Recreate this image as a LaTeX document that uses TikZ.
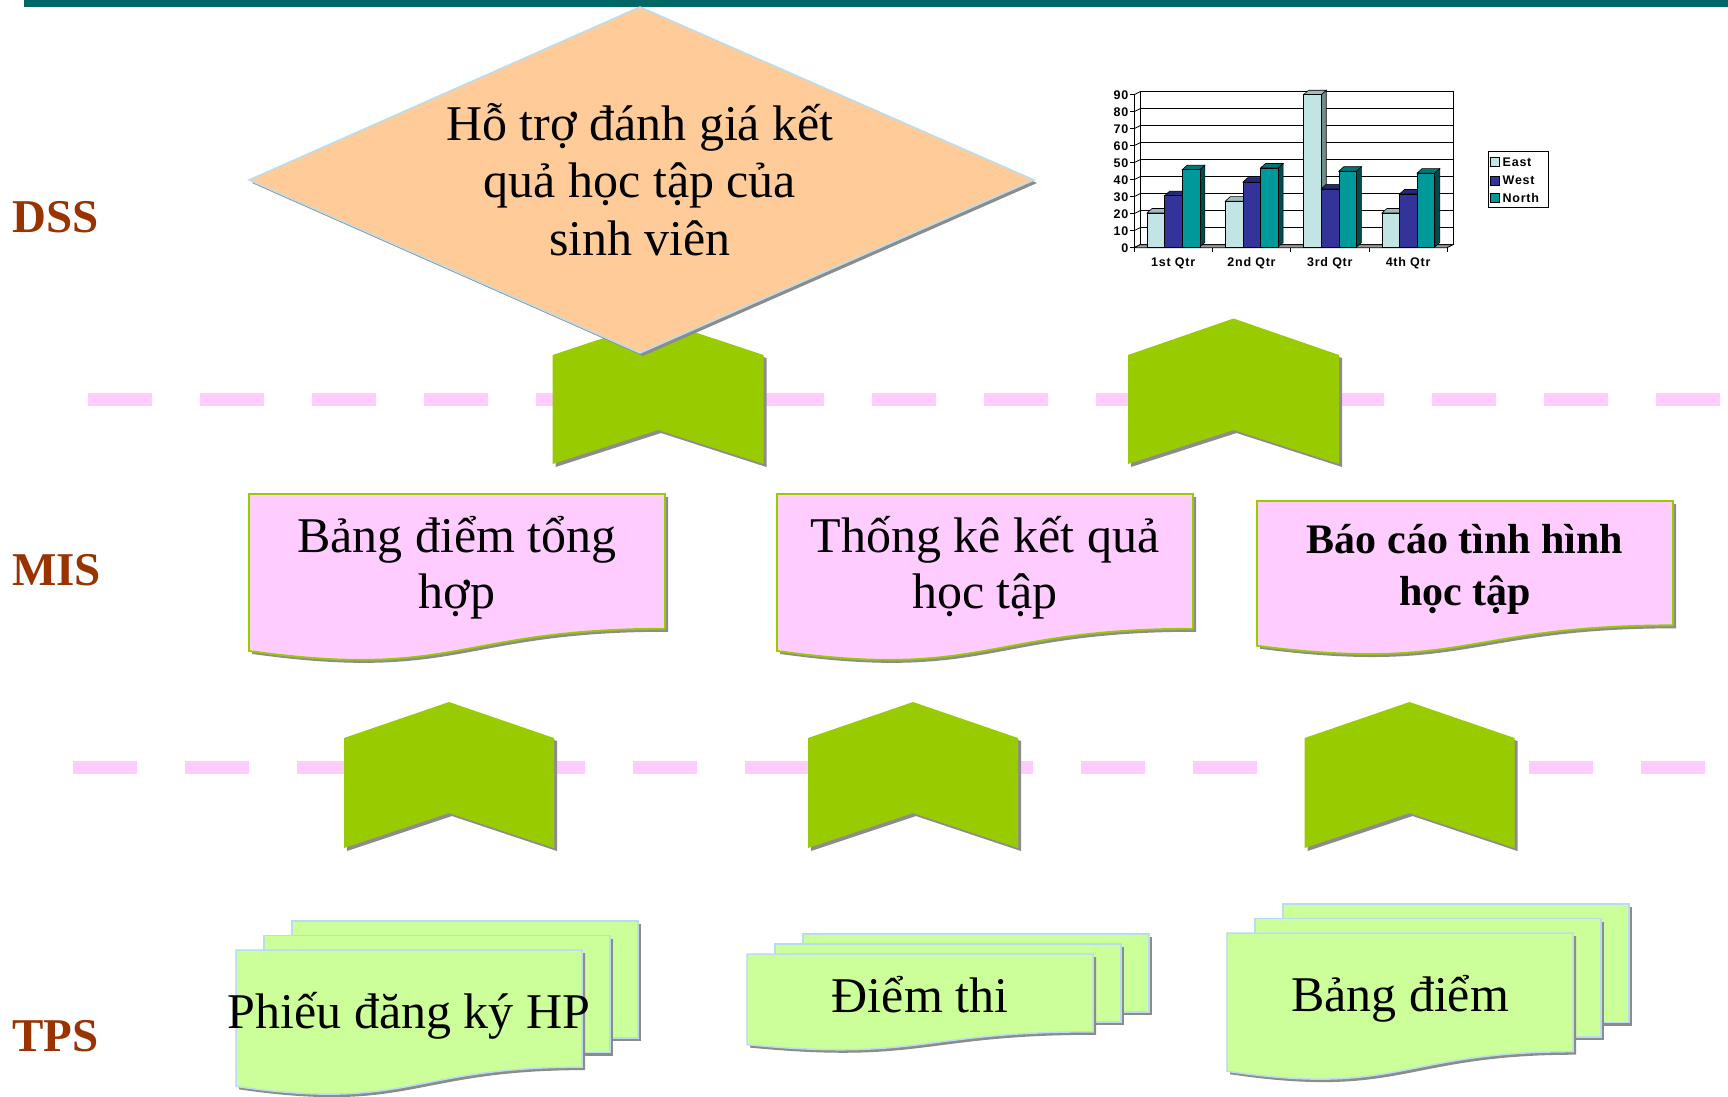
\documentclass[tikz,border=0pt]{standalone}
\usepackage{fontspec}
\setmainfont{Liberation Serif}
\newfontfamily\chartfont[LetterSpace=6]{Liberation Sans}

\definecolor{topbar}{HTML}{006666}
\definecolor{levelred}{HTML}{993300}
\definecolor{peach}{HTML}{FFCC99}
\definecolor{edgeblue}{HTML}{B8DDEE}
\definecolor{arrowgreen}{HTML}{99CC00}
\definecolor{pinkfill}{HTML}{FFCCFF}
\definecolor{dashpink}{HTML}{FFCCFF}
\definecolor{limefill}{HTML}{CCFF99}
\definecolor{shadowgray}{HTML}{8C8C8C}
\definecolor{eastF}{HTML}{C2E4E4}
\definecolor{eastT}{HTML}{9DBDBD}
\definecolor{eastS}{HTML}{6F8F8F}
\definecolor{westF}{HTML}{333399}
\definecolor{westT}{HTML}{28287A}
\definecolor{westS}{HTML}{1A1A5C}
\definecolor{northF}{HTML}{009999}
\definecolor{northT}{HTML}{007676}
\definecolor{northS}{HTML}{004C4C}
\definecolor{floorgray}{HTML}{999999}

% document flowchart outline: x, y (top-left), width, height
\newcommand{\docpath}[4]{(#1,#2) -- ({#1+#3},#2) -- ({#1+#3},{#2+0.802*#4})
  .. controls ({#1+0.5*#3},{#2+0.802*#4}) and ({#1+0.5*#3},{#2+1.107*#4}) .. (#1,{#2+0.934*#4}) -- cycle}

% single document with drop shadow
\newcommand{\pagedoc}[4]{%
  \fill[shadowgray, shift={(3,3)}] \docpath{#1}{#2}{#3}{#4};
  \filldraw[misdoc] \docpath{#1}{#2}{#3}{#4};
}

% stacked documents: x, y, w, h of the front page, then page offset dx, dy
\newcommand{\stackdoc}[6]{%
  \foreach \k in {2,1}{
    \fill[shadowgray] ({#1+\k*#5+3},{#2+\k*#6+3}) rectangle ({#1+\k*#5+#3+3},{#2+\k*#6+0.802*#4+3});
    \filldraw[tpsdoc] ({#1+\k*#5},{#2+\k*#6}) rectangle ({#1+\k*#5+#3},{#2+\k*#6+0.802*#4});
  }
  \fill[shadowgray, shift={(3,3)}] \docpath{#1}{#2}{#3}{#4};
  \filldraw[tpsdoc] \docpath{#1}{#2}{#3}{#4};
}

% upward chevron: centre x, half width, apex y, shoulder y, bottom y, notch y
\newcommand{\chevpath}[6]{({#1-#2},#4) -- (#1,#3) -- ({#1+#2},#4) -- ({#1+#2},#5) -- (#1,#6) -- ({#1-#2},#5) -- cycle}
\newcommand{\chevron}[6]{%
  \fill[shadowgray, shift={(3,3)}] \chevpath{#1}{#2}{#3}{#4}{#5}{#6};
  \fill[arrowgreen] \chevpath{#1}{#2}{#3}{#4}{#5}{#6};
}

% 3-D column: left x, value, front, top, side colours
\newcommand{\colbar}[5]{%
  \filldraw[fill=#5, draw=black, line width=0.6] ({#1+17.6},247) -- ({#1+22.6},242.5) -- ({#1+22.6},{247.7-#2*1.7-4.5}) -- ({#1+17.6},{247.7-#2*1.7}) -- cycle;
  \filldraw[fill=#4, draw=black, line width=0.6] (#1,{247.7-#2*1.7}) -- ({#1+17.6},{247.7-#2*1.7}) -- ({#1+22.6},{247.7-#2*1.7-4.5}) -- ({#1+5},{247.7-#2*1.7-4.5}) -- cycle;
  \filldraw[fill=#3, draw=black, line width=0.6] (#1,247) rectangle ({#1+17.6},{247.7-#2*1.7});
}

\newcommand{\textrows}[1]{\begin{tabular}[t]{@{}c@{}}#1\end{tabular}}

\begin{document}
\begin{tikzpicture}[x=1pt, y=-1pt,
  misdoc/.style={fill=pinkfill, draw=arrowgreen, line width=1.8},
  tpsdoc/.style={fill=limefill, draw=edgeblue, line width=1.5},
  levellabel/.style={font=\fontsize{47}{50}\selectfont\bfseries, text=levelred, inner sep=0, anchor=base west},
  bodytext/.style={font=\fontsize{50}{56.5}\selectfont, inner sep=0, anchor=base},
  boldtext/.style={font=\fontsize{42}{52}\selectfont\bfseries, inner sep=0, anchor=base},
  charttext/.style={font=\chartfont\fontsize{12.5}{14}\selectfont\bfseries, inner sep=0},
  dashline/.style={draw=dashpink, line width=13, dash pattern=on 64 off 48}
]
\useasboundingbox (0,0) rectangle (1728,1096);
\fill[white] (0,0) rectangle (1728,1096);

% title rule
\fill[topbar] (24,0) rectangle (1728,7);

% level labels
\node[levellabel] (dss) at (12,232.7) {DSS};
\node[levellabel] (mis) at (12,585) {MIS};
\node[levellabel] (tps) at (12,1051) {TPS};

% level separators
\draw[dashline] (88,399) -- (1728,399);
\draw[dashline] (73,767) -- (1728,767);

% arrows between levels
\chevron{658}{105.5}{320}{355}{464}{430}
\chevron{1233.5}{105.5}{318.5}{355}{464}{430}
\chevron{449}{105}{702}{738}{848}{813}
\chevron{913}{105}{702}{738}{848}{813}
\chevron{1409.5}{105}{702}{738}{848}{813}

% decision diamond
\fill[shadowgray, shift={(3,3)}] (640,7) -- (1034,180) -- (640,353) -- (249,180) -- cycle;
\filldraw[fill=peach, draw=edgeblue, line width=1.5] (640,7) -- (1034,180) -- (640,353) -- (249,180) -- cycle;
\node[bodytext, font=\fontsize{50}{57.5}\selectfont] (dsstext) at (640,140)
  {\textrows{Hỗ trợ đánh giá kết\\quả học tập của\\sinh viên}};

% column chart
\filldraw[fill=white, draw=black, line width=0.8] (1140,91.7) rectangle (1453,244.7);
\foreach \v in {10,20,...,80}
  \draw[line width=0.8] (1140,{244.7-\v*1.7}) -- (1453,{244.7-\v*1.7});
\foreach \v in {0,10,...,90}{
  \draw[line width=0.8] (1134,{247.7-\v*1.7}) -- (1140,{244.7-\v*1.7});
  \draw[line width=0.8] (1130,{247.7-\v*1.7}) -- (1134,{247.7-\v*1.7});
  \node[charttext, anchor=east] (ylab\v) at (1128.5,{247.7-\v*1.7}) {\v};
}
\draw[line width=0.8] (1134,94.7) -- (1134,247.7);
\filldraw[fill=floorgray, draw=black, line width=0.8] (1134,247.7) -- (1447,247.7) -- (1453,244.7) -- (1140,244.7) -- cycle;
\foreach \i in {0,...,4}
  \draw[line width=0.8] ({1134+78.3*\i},247.7) -- ++(0,4);
\foreach \g/\e/\w/\n/\q in {0/20.4/30.6/45.9/1st Qtr, 1/27.4/38.6/46.9/2nd Qtr, 2/90/34.6/45/3rd Qtr, 3/20.4/31.6/43.9/4th Qtr}{
  \colbar{1134+78.3*\g+13}{\e}{eastF}{eastT}{eastS}
  \colbar{1134+78.3*\g+30.6}{\w}{westF}{westT}{westS}
  \colbar{1134+78.3*\g+48.2}{\n}{northF}{northT}{northS}
  \node[charttext, anchor=base] (cat\g) at ({1134+78.3*\g+39.2},266.5) {\q};
}
% legend
\draw[line width=0.8] (1488,151) rectangle (1548,207);
\foreach \y/\c/\t in {162/eastF/East, 180.5/westF/West, 198/northF/North}{
  \filldraw[fill=\c, draw=black, line width=0.6] (1490,{\y-4.5}) rectangle (1499,{\y+4.5});
  \node[charttext, anchor=west] (leg\t) at (1502.5,\y) {\t};
}

% MIS reports
\pagedoc{249}{494}{416}{168}
\pagedoc{777}{494}{416}{168}
\pagedoc{1257}{501}{416}{155}
\node[bodytext] (rep1) at (457,552) {\textrows{Bảng điểm tổng\\hợp}};
\node[bodytext] (rep2) at (985,552) {\textrows{Thống kê kết quả\\học tập}};
\node[boldtext] (rep3) at (1465,553) {\textrows{Báo cáo tình hình\\học tập}};

% TPS records
\stackdoc{236}{950}{346}{146}{28}{-14.5}
\stackdoc{747}{954}{346}{97}{28}{-10}
\stackdoc{1227}{933}{346}{148}{28}{-14.5}
\node[bodytext] (rec1) at (409,1028) {Phiếu đăng ký HP};
\node[bodytext] (rec2) at (920,1012) {Điểm thi};
\node[bodytext] (rec3) at (1400,1011) {Bảng điểm};
\end{tikzpicture}
\end{document}
